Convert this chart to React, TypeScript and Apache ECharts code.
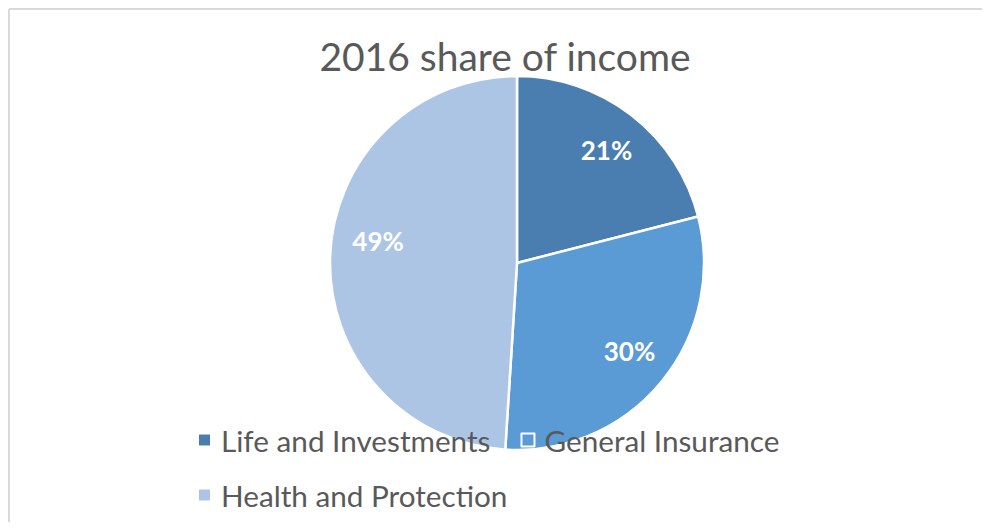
import React, { useEffect, useRef } from "react";
import * as echarts from "echarts";

const categories = ["Life and Investments", "General Insurance", "Health and Protection"];
const values = [21, 30, 49];
const colors = ["#4A7EB0", "#5B9BD5", "#ADC5E5"];
const titleText = "2016 share of income";
// legend rows (which categories sit on which row)
const legendRows = [categories.slice(0, 2), categories.slice(2)];
// small per-label nudges (style only)
const labelNudges = [
  { dx: 0, dy: 2 },
  { dx: 0, dy: -5 },
  { dx: 7, dy: -17 },
];

export default function App() {
  const ref = useRef<HTMLDivElement>(null);
  useEffect(() => {
    if (!ref.current) return;
    const chart = echarts.init(ref.current, undefined, { renderer: "svg" });
    const data = categories.map((name, i) => ({
      name,
      value: values[i],
      itemStyle: { color: colors[i] },
    }));
    const legendBase = {
      left: 184,
      orient: "horizontal",
      itemGap: 30,
      itemWidth: 13,
      itemHeight: 13,
      icon: "rect",
      z: 10,
      itemStyle: { borderColor: "#ffffff", borderWidth: 2 },
      textStyle: {
        fontFamily: "Lato",
        fontSize: 29.7,
        color: "#595959",
        padding: [0, 0, 0, 5],
      },
    };
    chart.setOption({
      animation: false,
      backgroundColor: "#ffffff",
      title: {
        text: titleText,
        left: 492,
        textAlign: "center",
        top: 23,
        textStyle: {
          fontFamily: "Lato",
          fontSize: 39,
          fontWeight: "normal",
          color: "#595959",
        },
      },
      legend: legendRows.map((row, r) => ({
        ...legendBase,
        top: 412 + r * 55,
        data: row,
      })),
      graphic: [
        {
          type: "line",
          silent: true,
          z: 100,
          shape: { x1: 1, y1: 1, x2: 2000, y2: 1 },
          style: { stroke: "#d9d9d9", lineWidth: 2 },
        },
        {
          type: "line",
          silent: true,
          z: 100,
          shape: { x1: 1, y1: 1, x2: 1, y2: 2000 },
          style: { stroke: "#d9d9d9", lineWidth: 2 },
        },
      ],
      series: [
        {
          type: "pie",
          center: [509, 255],
          radius: [0, 187],
          startAngle: 90,
          clockwise: true,
          label: { show: false },
          labelLine: { show: false },
          itemStyle: { borderColor: "#ffffff", borderWidth: 2.5 },
          emphasis: { disabled: true },
          data,
        },
        {
          type: "pie",
          center: [509, 255],
          radius: [100, 186],
          startAngle: 90,
          clockwise: true,
          silent: true,
          legendHoverLink: false,
          itemStyle: { color: "transparent", borderWidth: 0 },
          label: {
            show: true,
            position: "inside",
            formatter: (p: any) => p.value + "%",
            color: "#ffffff",
            fontFamily: "Lato",
            fontWeight: "bold",
            fontSize: 26,
          },
          labelLayout: (p: any) => labelNudges[p.dataIndex] || {},
          labelLine: { show: false },
          emphasis: { disabled: true },
          data: categories.map((name, i) => ({
            name: name + " ",
            value: values[i],
            itemStyle: { color: "transparent" },
          })),
        },
      ],
    });
    return () => chart.dispose();
  }, []);
  return <div ref={ref} style={{ width: 974, height: 514 }} />;
}
